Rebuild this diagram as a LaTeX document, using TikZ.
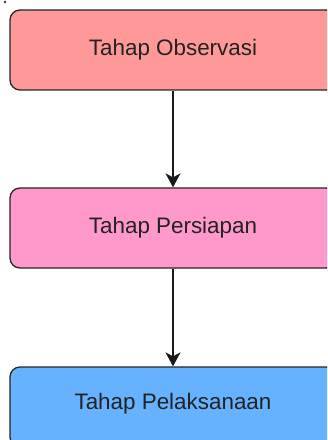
\documentclass[tikz,border=0pt]{standalone}
\usepackage{fontspec}
\setmainfont{Liberation Sans}
\usetikzlibrary{arrows.meta}
\definecolor{cobs}{HTML}{FF9999}
\definecolor{cper}{HTML}{FF99CC}
\definecolor{cpel}{HTML}{66B2FF}
\definecolor{ctext}{HTML}{222222}
\tikzset{
  stagebox/.style={draw=black!85, line width=1.3bp, rounded corners=10bp,
    minimum width=326bp, minimum height=80bp, inner sep=0pt,
    font=\fontsize{22.5}{26}\selectfont, text=ctext},
  flowarrow/.style={draw=black!90, line width=1.3bp,
    -{Stealth[length=14bp, width=15bp, inset=4bp]}}
}
\begin{document}
\begin{tikzpicture}[x=1bp, y=-1bp]
\useasboundingbox (0,0) rectangle (327,440);
\clip (0,0) rectangle (327,440);
\fill[black!80] (5,2) circle (1.3bp);
\node[stagebox, fill=cobs] (obs) at (173,50) {Tahap Observasi};
\node[stagebox, fill=cper] (per) at (173,228) {Tahap Persiapan};
\node[stagebox, fill=cpel] (pel) at (173,407) {\raisebox{12bp}{Tahap Pelaksanaan}};
\draw[flowarrow] (obs.south) -- (per.north);
\draw[flowarrow] (per.south) -- (pel.north);
\end{tikzpicture}
\end{document}
